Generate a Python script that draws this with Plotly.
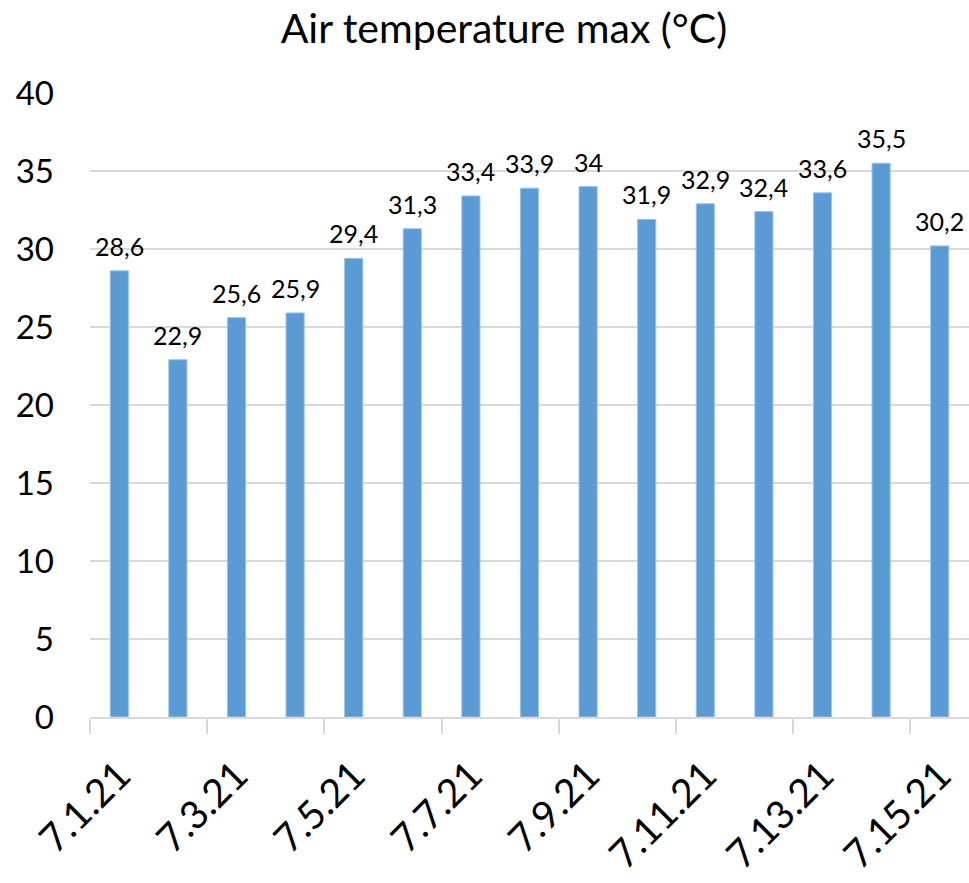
import plotly.graph_objects as go

# Daily maximum air temperature, first half of July 2021
dates = ["7.1.21", "7.2.21", "7.3.21", "7.4.21", "7.5.21", "7.6.21", "7.7.21", "7.8.21",
         "7.9.21", "7.10.21", "7.11.21", "7.12.21", "7.13.21", "7.14.21", "7.15.21"]
temp_max = [28.6, 22.9, 25.6, 25.9, 29.4, 31.3, 33.4, 33.9, 34.0, 31.9, 32.9, 32.4, 33.6, 35.5, 30.2]
y_ticks = [0, 5, 10, 15, 20, 25, 30, 35, 40]

FONT = "Lato"
positions = list(range(len(dates)))
labels = [f"{v:g}".replace(".", ",") for v in temp_max]

fig = go.Figure(
    go.Bar(
        x=positions,
        y=temp_max,
        width=0.31,
        marker=dict(color="#5B9BD5", line=dict(color="#9DC3E6", width=1)),
        hoverinfo="skip",
    )
)

for x, v, t in zip(positions, temp_max, labels):
    fig.add_annotation(
        x=x, y=v, text=t, showarrow=False, yanchor="bottom", yshift=8,
        font=dict(family=FONT, size=25, color="#000000"),
    )

fig.update_layout(
    width=969,
    height=883,
    margin=dict(l=90, r=0, t=93, b=166),
    paper_bgcolor="white",
    plot_bgcolor="white",
    showlegend=False,
    title=dict(
        text="Air temperature max (°C)",
        x=0.52, xanchor="center", y=0.968, yanchor="middle",
        font=dict(family=FONT, size=41, color="#000000"),
    ),
    xaxis=dict(
        range=[-0.5, len(dates) - 0.5],
        tickmode="array",
        tickvals=positions[::2],
        ticktext=dates[::2],
        tickangle=-45,
        ticks="",
        ticklabelstandoff=18,
        tickfont=dict(family=FONT, size=39, color="#000000"),
        showgrid=False,
        showline=True,
        linecolor="#D9D9D9",
        linewidth=2,
        zeroline=False,
        automargin=False,
        minor=dict(
            tickmode="linear", tick0=-0.5, dtick=2,
            ticks="outside", ticklen=15, tickwidth=2, tickcolor="#D9D9D9",
            showgrid=False,
        ),
    ),
    yaxis=dict(
        range=[0, 40],
        tickvals=y_ticks,
        ticks="",
        ticklabelstandoff=35,
        tickfont=dict(family=FONT, size=33, color="#000000"),
        showgrid=True,
        gridcolor="#D9D9D9",
        gridwidth=1.5,
        zeroline=False,
        showline=False,
        automargin=False,
    ),
)

fig.write_html("out.html")
